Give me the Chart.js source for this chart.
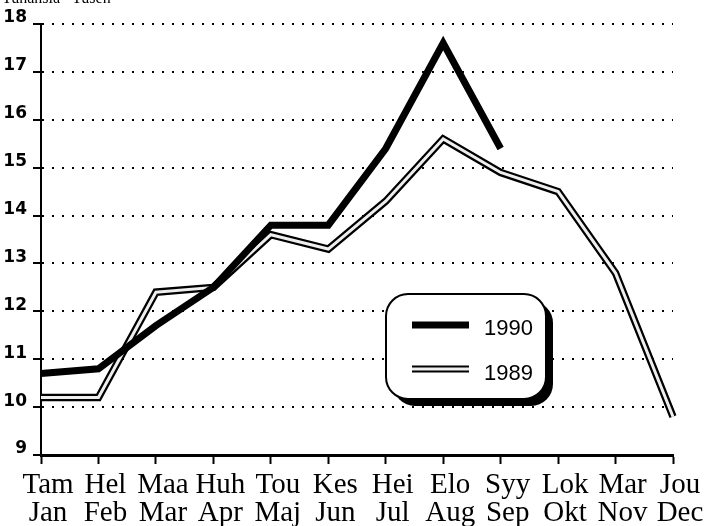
<!DOCTYPE html>
<html>
<head>
<meta charset="utf-8">
<script src="https://cdn.jsdelivr.net/npm/chart.js@4.4.0/dist/chart.umd.min.js"></script>
<style>
  html, body { margin: 0; padding: 0; background: #fff; }
  #chart { display: block; }
</style>
</head>
<body>
<canvas id="chart" width="705" height="526"></canvas>
<script>
// month names, Finnish on top, Swedish below
var monthsFi = ['Tam', 'Hel', 'Maa', 'Huh', 'Tou', 'Kes', 'Hei', 'Elo', 'Syy', 'Lok', 'Mar', 'Jou'];
var monthsSv = ['Jan', 'Feb', 'Mar', 'Apr', 'Maj', 'Jun', 'Jul', 'Aug', 'Sep', 'Okt', 'Nov', 'Dec'];
var values1990 = [10.7, 10.8, 11.7, 12.5, 13.8, 13.8, 15.4, 17.6, 15.4];
var values1989 = [10.2, 10.2, 12.4, 12.5, 13.6, 13.3, 14.3, 15.6, 14.9, 14.5, 12.8, 9.8];
var yTicks = [9, 10, 11, 12, 13, 14, 15, 16, 17, 18];
var unitText = 'Tuhansia   Tusen';

var labels = monthsFi.map(function (fi, i) { return [fi, monthsSv[i]]; });

function roundRect(ctx, x, y, w, h, r) {
    ctx.beginPath();
    ctx.moveTo(x + r, y);
    ctx.arcTo(x + w, y, x + w, y + h, r);
    ctx.arcTo(x + w, y + h, x, y + h, r);
    ctx.arcTo(x, y + h, x, y, r);
    ctx.arcTo(x, y, x + w, y, r);
    ctx.closePath();
}

// boxed legend with drop shadow + unit text at the top (cut off in the scan)
var extras = {
    id: 'extras',
    afterDraw: function (chart) {
        var ctx = chart.ctx;
        ctx.save();
        ctx.fillStyle = '#000';
        ctx.font = '16px "Liberation Serif"';
        ctx.textBaseline = 'alphabetic';
        ctx.fillText(unitText, 2, 3);

        var bx = 386, by = 294, bw = 160, bh = 105;
        roundRect(ctx, bx + 7, by + 7, bw, bh, 22);
        ctx.fill();
        roundRect(ctx, bx, by, bw, bh, 22);
        ctx.fillStyle = '#fff';
        ctx.fill();
        ctx.lineWidth = 2;
        ctx.strokeStyle = '#000';
        ctx.stroke();

        ctx.lineCap = 'butt';
        ctx.beginPath();
        ctx.moveTo(412, 325); ctx.lineTo(469, 325);
        ctx.lineWidth = 7;
        ctx.strokeStyle = '#000';
        ctx.stroke();

        ctx.beginPath();
        ctx.moveTo(412, 369); ctx.lineTo(469, 369);
        ctx.lineWidth = 7;
        ctx.stroke();
        ctx.lineWidth = 3;
        ctx.strokeStyle = '#eeeeee';
        ctx.stroke();

        ctx.fillStyle = '#000';
        ctx.font = '22px "Liberation Sans"';
        ctx.fillText('1990', 484, 335);
        ctx.fillText('1989', 484, 380);
        ctx.restore();
    }
};

new Chart(document.getElementById('chart'), {
    type: 'line',
    data: {
        labels: labels,
        datasets: [{
            label: '1990',
            data: values1990,
            borderColor: '#000',
            borderWidth: 7,
            pointRadius: 0,
            order: 0
        }, {
            label: '1989',
            data: values1989,
            borderColor: '#eeeeee',
            borderWidth: 3,
            pointRadius: 0,
            order: 1
        }, {
            label: '1989 outline',
            data: values1989,
            borderColor: '#000',
            borderWidth: 7.5,
            pointRadius: 0,
            order: 2
        }]
    },
    options: {
        responsive: false,
        animation: false,
        layout: { padding: { top: 24, right: 32, left: 0, bottom: 0 } },
        plugins: {
            legend: { display: false },
            tooltip: { enabled: false }
        },
        scales: {
            x: {
                offset: false,
                afterFit: function (scale) { scale.height = 71; },
                grid: {
                    display: true,
                    drawOnChartArea: false,
                    drawTicks: true,
                    tickLength: 9,
                    tickWidth: 2,
                    tickColor: '#000'
                },
                border: { display: true, color: '#000', width: 3 },
                ticks: {
                    color: '#000',
                    font: { family: '"Liberation Serif"', size: 29, lineHeight: 0.95 },
                    padding: 8,
                    labelOffset: 7,
                    autoSkip: false,
                    maxRotation: 0,
                    minRotation: 0
                }
            },
            y: {
                min: yTicks[0],
                max: yTicks[yTicks.length - 1],
                afterFit: function (scale) { scale.width = 41; },
                afterBuildTicks: function (scale) {
                    scale.ticks = yTicks.map(function (v) { return { value: v }; });
                },
                grid: {
                    color: '#000',
                    lineWidth: 2,
                    tickLength: 8,
                    tickWidth: 2,
                    tickColor: '#000'
                },
                border: { display: true, color: '#000', width: 2, dash: [2, 8] },
                ticks: {
                    color: '#000',
                    font: { family: '"DejaVu Sans"', size: 17, weight: 'bold' },
                    padding: 6,
                    labelOffset: -6
                }
            }
        }
    },
    plugins: [extras]
});
</script>
</body>
</html>
